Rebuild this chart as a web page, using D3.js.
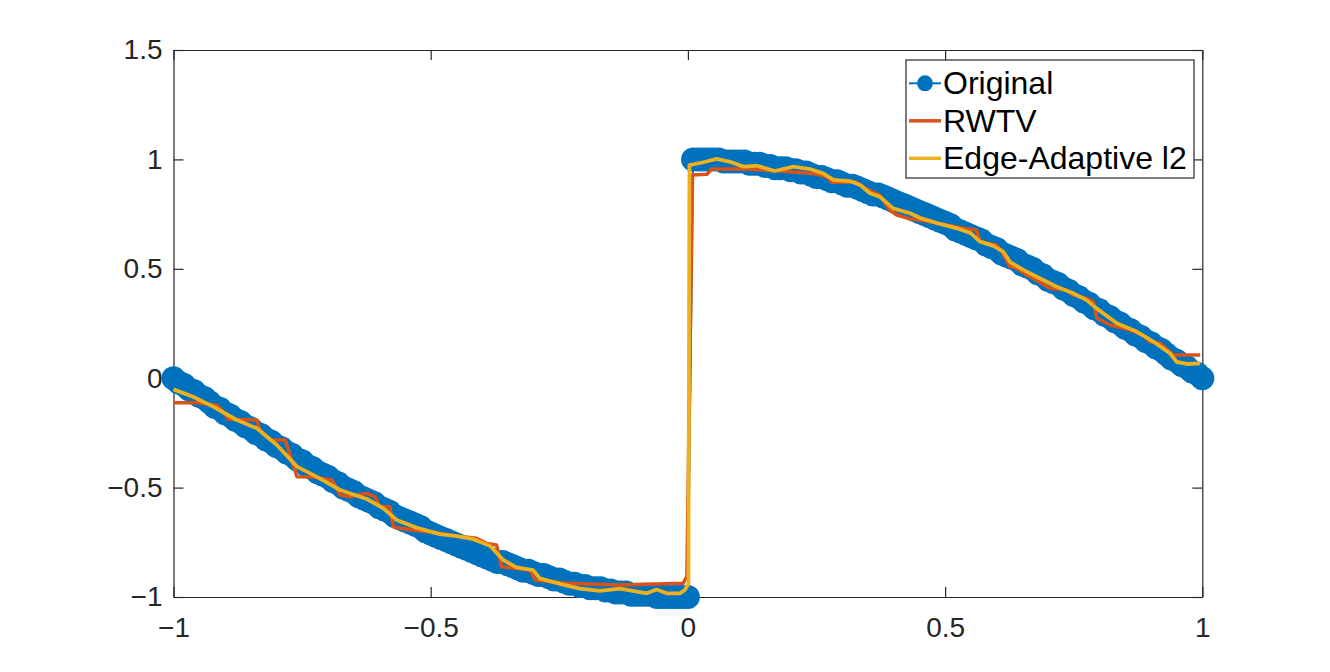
<!DOCTYPE html>
<html>
<head>
<meta charset="utf-8">
<script src="https://cdn.jsdelivr.net/npm/d3@7"></script>
<style>
    html, body { margin: 0; padding: 0; background: #fff; }
    svg { display: block; font-family: "Liberation Sans", Arial, Helvetica, sans-serif; }
</style>
</head>
<body>
<svg id="chart" width="1330" height="672"></svg>
<script>
// Original signal, left branch (x <= 0)
const origLeftX = [
    -1.00, -0.99, -0.98, -0.97, -0.96, -0.95, -0.94, -0.93, -0.92, -0.91,
    -0.90, -0.89, -0.88, -0.87, -0.86, -0.85, -0.84, -0.83, -0.82, -0.81,
    -0.80, -0.79, -0.78, -0.77, -0.76, -0.75, -0.74, -0.73, -0.72, -0.71,
    -0.70, -0.69, -0.68, -0.67, -0.66, -0.65, -0.64, -0.63, -0.62, -0.61,
    -0.60, -0.59, -0.58, -0.57, -0.56, -0.55, -0.54, -0.53, -0.52, -0.51,
    -0.50, -0.49, -0.48, -0.47, -0.46, -0.45, -0.44, -0.43, -0.42, -0.41,
    -0.40, -0.39, -0.38, -0.37, -0.36, -0.35, -0.34, -0.33, -0.32, -0.31,
    -0.30, -0.29, -0.28, -0.27, -0.26, -0.25, -0.24, -0.23, -0.22, -0.21,
    -0.20, -0.19, -0.18, -0.17, -0.16, -0.15, -0.14, -0.13, -0.12, -0.11,
    -0.10, -0.09, -0.08, -0.07, -0.06, -0.05, -0.04, -0.03, -0.02, -0.01,
    0.00
];
const origLeftY = [
    0.00, -0.02, -0.03, -0.05, -0.06, -0.08, -0.09, -0.11, -0.13, -0.14,
    -0.16, -0.17, -0.19, -0.20, -0.22, -0.23, -0.25, -0.26, -0.28, -0.29,
    -0.31, -0.32, -0.34, -0.35, -0.37, -0.38, -0.40, -0.41, -0.43, -0.44,
    -0.45, -0.47, -0.48, -0.50, -0.51, -0.52, -0.54, -0.55, -0.56, -0.57,
    -0.59, -0.60, -0.61, -0.63, -0.64, -0.65, -0.66, -0.67, -0.68, -0.70,
    -0.71, -0.72, -0.73, -0.74, -0.75, -0.76, -0.77, -0.78, -0.79, -0.80,
    -0.81, -0.82, -0.83, -0.84, -0.84, -0.85, -0.86, -0.87, -0.88, -0.88,
    -0.89, -0.90, -0.90, -0.91, -0.92, -0.92, -0.93, -0.94, -0.94, -0.95,
    -0.95, -0.96, -0.96, -0.96, -0.97, -0.97, -0.98, -0.98, -0.98, -0.99,
    -0.99, -0.99, -0.99, -0.99, -1.00, -1.00, -1.00, -1.00, -1.00, -1.00,
    -1.00
];

// Original signal, right branch (x > 0)
const origRightX = [
    0.01, 0.02, 0.03, 0.04, 0.05, 0.06, 0.07, 0.08, 0.09, 0.10,
    0.11, 0.12, 0.13, 0.14, 0.15, 0.16, 0.17, 0.18, 0.19, 0.20,
    0.21, 0.22, 0.23, 0.24, 0.25, 0.26, 0.27, 0.28, 0.29, 0.30,
    0.31, 0.32, 0.33, 0.34, 0.35, 0.36, 0.37, 0.38, 0.39, 0.40,
    0.41, 0.42, 0.43, 0.44, 0.45, 0.46, 0.47, 0.48, 0.49, 0.50,
    0.51, 0.52, 0.53, 0.54, 0.55, 0.56, 0.57, 0.58, 0.59, 0.60,
    0.61, 0.62, 0.63, 0.64, 0.65, 0.66, 0.67, 0.68, 0.69, 0.70,
    0.71, 0.72, 0.73, 0.74, 0.75, 0.76, 0.77, 0.78, 0.79, 0.80,
    0.81, 0.82, 0.83, 0.84, 0.85, 0.86, 0.87, 0.88, 0.89, 0.90,
    0.91, 0.92, 0.93, 0.94, 0.95, 0.96, 0.97, 0.98, 0.99, 1.00
];
const origRightY = [
    1.00, 1.00, 1.00, 1.00, 1.00, 1.00, 0.99, 0.99, 0.99, 0.99,
    0.99, 0.98, 0.98, 0.98, 0.97, 0.97, 0.96, 0.96, 0.96, 0.95,
    0.95, 0.94, 0.94, 0.93, 0.92, 0.92, 0.91, 0.90, 0.90, 0.89,
    0.88, 0.88, 0.87, 0.86, 0.85, 0.84, 0.84, 0.83, 0.82, 0.81,
    0.80, 0.79, 0.78, 0.77, 0.76, 0.75, 0.74, 0.73, 0.72, 0.71,
    0.70, 0.68, 0.67, 0.66, 0.65, 0.64, 0.63, 0.61, 0.60, 0.59,
    0.57, 0.56, 0.55, 0.54, 0.52, 0.51, 0.50, 0.48, 0.47, 0.45,
    0.44, 0.43, 0.41, 0.40, 0.38, 0.37, 0.35, 0.34, 0.32, 0.31,
    0.29, 0.28, 0.26, 0.25, 0.23, 0.22, 0.20, 0.19, 0.17, 0.16,
    0.14, 0.13, 0.11, 0.09, 0.08, 0.06, 0.05, 0.03, 0.02, 0.00
];

// RWTV reconstruction (staircase-like)
const rwtvX = [
    -1.000, -0.952, -0.915, -0.905, -0.893, -0.838, -0.832, -0.812, -0.783, -0.760,
    -0.728, -0.692, -0.676, -0.657, -0.624, -0.608, -0.599, -0.579, -0.573, -0.560,
    -0.520, -0.482, -0.443, -0.411, -0.391, -0.372, -0.362, -0.307, -0.297, -0.236,
    -0.132, -0.009, -0.002, 0.009, 0.037, 0.046, 0.114, 0.179, 0.243, 0.270,
    0.280, 0.328, 0.344, 0.373, 0.392, 0.406, 0.432, 0.451, 0.471, 0.535,
    0.561, 0.568, 0.600, 0.610, 0.626, 0.639, 0.659, 0.671, 0.704, 0.736,
    0.749, 0.775, 0.788, 0.795, 0.821, 0.860, 0.885, 0.898, 0.918, 0.944,
    0.996
];
const rwtvY = [
    -0.112, -0.112, -0.125, -0.150, -0.188, -0.191, -0.237, -0.282, -0.282, -0.450,
    -0.452, -0.465, -0.534, -0.542, -0.526, -0.542, -0.587, -0.587, -0.679, -0.686,
    -0.698, -0.709, -0.724, -0.732, -0.755, -0.762, -0.862, -0.877, -0.922, -0.937,
    -0.945, -0.937, -0.907, 0.929, 0.932, 0.956, 0.956, 0.947, 0.936, 0.921,
    0.895, 0.895, 0.868, 0.837, 0.769, 0.746, 0.728, 0.723, 0.715, 0.685,
    0.677, 0.624, 0.609, 0.578, 0.510, 0.502, 0.472, 0.457, 0.411, 0.403,
    0.381, 0.365, 0.350, 0.274, 0.243, 0.220, 0.197, 0.167, 0.160, 0.106,
    0.106
];

// Edge-Adaptive l2 reconstruction
const edgeX = [
    -1.000, -0.962, -0.923, -0.877, -0.838, -0.799, -0.760, -0.722, -0.676, -0.624,
    -0.592, -0.566, -0.527, -0.482, -0.449, -0.417, -0.385, -0.359, -0.333, -0.301,
    -0.288, -0.249, -0.210, -0.171, -0.132, -0.107, -0.080, -0.061, -0.041, -0.015,
    -0.006, 0.001, 0.003, 0.030, 0.056, 0.082, 0.108, 0.134, 0.169, 0.205,
    0.237, 0.263, 0.283, 0.315, 0.335, 0.354, 0.373, 0.399, 0.432, 0.451,
    0.490, 0.523, 0.549, 0.568, 0.594, 0.613, 0.626, 0.652, 0.684, 0.717,
    0.749, 0.775, 0.795, 0.834, 0.872, 0.905, 0.937, 0.950, 0.970, 0.996
];
const edgeY = [
    -0.051, -0.085, -0.130, -0.191, -0.229, -0.305, -0.404, -0.450, -0.511, -0.552,
    -0.595, -0.648, -0.684, -0.713, -0.722, -0.736, -0.766, -0.831, -0.865, -0.877,
    -0.915, -0.940, -0.962, -0.972, -0.962, -0.972, -0.983, -0.966, -0.983, -0.983,
    -0.968, -0.940, 0.974, 0.987, 1.002, 0.989, 0.967, 0.971, 0.947, 0.967,
    0.956, 0.936, 0.906, 0.901, 0.883, 0.845, 0.830, 0.776, 0.754, 0.733,
    0.705, 0.685, 0.664, 0.624, 0.605, 0.578, 0.532, 0.495, 0.457, 0.418,
    0.388, 0.357, 0.318, 0.251, 0.213, 0.167, 0.114, 0.075, 0.065, 0.068
];

const seriesNames = ['Original', 'RWTV', 'Edge-Adaptive l2'];
const xTicks = [-1, -0.5, 0, 0.5, 1];
const yTicks = [-1, -0.5, 0, 0.5, 1, 1.5];
const xDomain = [-1, 1];
const yDomain = [-1, 1.5];

// Layout / style
const PLOT = { left: 173.5, right: 1202.3, top: 50, bottom: 597 };
const COLORS = { original: '#0072BD', rwtv: '#D95319', edge: '#EDB120', axis: '#262626' };
const TICK_LEN = 10;
const MARKER_R = 12;

const zip = (xs, ys) => xs.map((x, i) => ({ x: x, y: ys[i] }));

function renderChart() {
    const svg = d3.select('#chart');

    const x = d3.scaleLinear().domain(xDomain).range([PLOT.left, PLOT.right]);
    const y = d3.scaleLinear().domain(yDomain).range([PLOT.bottom, PLOT.top]);

    const fmt = d3.format('');

    // Axes (box on, ticks pointing inward)
    const styleAxis = g => {
        g.attr('font-family', null);
        g.selectAll('path.domain').attr('stroke', COLORS.axis).attr('stroke-width', 1.2);
        g.selectAll('.tick line').attr('stroke', COLORS.axis).attr('stroke-width', 1.2);
        g.selectAll('.tick text').attr('fill', COLORS.axis).attr('font-size', 28);
    };

    svg.append('g')
        .attr('transform', `translate(0,${PLOT.bottom})`)
        .call(d3.axisBottom(x).tickValues(xTicks).tickFormat(fmt)
            .tickSizeInner(-TICK_LEN).tickSizeOuter(0).tickPadding(20))
        .call(styleAxis);

    svg.append('g')
        .attr('transform', `translate(0,${PLOT.top})`)
        .call(d3.axisTop(x).tickValues(xTicks).tickFormat('')
            .tickSizeInner(-TICK_LEN).tickSizeOuter(0))
        .call(styleAxis);

    svg.append('g')
        .attr('transform', `translate(${PLOT.left},0)`)
        .call(d3.axisLeft(y).tickValues(yTicks).tickFormat(fmt)
            .tickSizeInner(-TICK_LEN).tickSizeOuter(0).tickPadding(11))
        .call(styleAxis);

    svg.append('g')
        .attr('transform', `translate(${PLOT.right},0)`)
        .call(d3.axisRight(y).tickValues(yTicks).tickFormat('')
            .tickSizeInner(-TICK_LEN).tickSizeOuter(0))
        .call(styleAxis);

    const line = d3.line().x(d => x(d.x)).y(d => y(d.y));

    // Original: thin line + filled circle markers
    const original = zip(origLeftX, origLeftY).concat(zip(origRightX, origRightY));

    svg.append('path')
        .datum(original)
        .attr('d', line)
        .attr('fill', 'none')
        .attr('stroke', COLORS.original)
        .attr('stroke-width', 2);

    svg.append('g')
        .selectAll('circle')
        .data(original)
        .enter()
        .append('circle')
        .attr('cx', d => x(d.x))
        .attr('cy', d => y(d.y))
        .attr('r', MARKER_R)
        .attr('fill', COLORS.original);

    svg.append('path')
        .datum(zip(rwtvX, rwtvY))
        .attr('d', line)
        .attr('fill', 'none')
        .attr('stroke', COLORS.rwtv)
        .attr('stroke-width', 3.5)
        .attr('stroke-linejoin', 'round');

    svg.append('path')
        .datum(zip(edgeX, edgeY))
        .attr('d', line)
        .attr('fill', 'none')
        .attr('stroke', COLORS.edge)
        .attr('stroke-width', 3.8)
        .attr('stroke-linejoin', 'round');

    renderLegend(svg);
}

function renderLegend(svg) {
    const box = { x: 906, y: 60, w: 288, h: 118 };
    const rowY = [83.3, 120.8, 158.3];
    const colors = [COLORS.original, COLORS.rwtv, COLORS.edge];

    const legend = svg.append('g').attr('class', 'legend');

    legend.append('rect')
        .attr('x', box.x)
        .attr('y', box.y)
        .attr('width', box.w)
        .attr('height', box.h)
        .attr('fill', '#fff')
        .attr('stroke', COLORS.axis)
        .attr('stroke-width', 1.2);

    const rows = legend.selectAll('g.row')
        .data(seriesNames)
        .enter()
        .append('g')
        .attr('class', 'row')
        .attr('transform', (d, i) => `translate(0,${rowY[i]})`);

    rows.append('line')
        .attr('x1', 909)
        .attr('x2', 941)
        .attr('stroke', (d, i) => colors[i])
        .attr('stroke-width', (d, i) => i === 0 ? 2 : 3.5);

    rows.filter((d, i) => i === 0)
        .append('circle')
        .attr('cx', 925)
        .attr('r', 8)
        .attr('fill', COLORS.original);

    rows.append('text')
        .attr('x', 943)
        .attr('y', 11)
        .attr('font-size', 32)
        .attr('fill', '#000')
        .text(d => d);
}

document.addEventListener('DOMContentLoaded', renderChart);
</script>
</body>
</html>
